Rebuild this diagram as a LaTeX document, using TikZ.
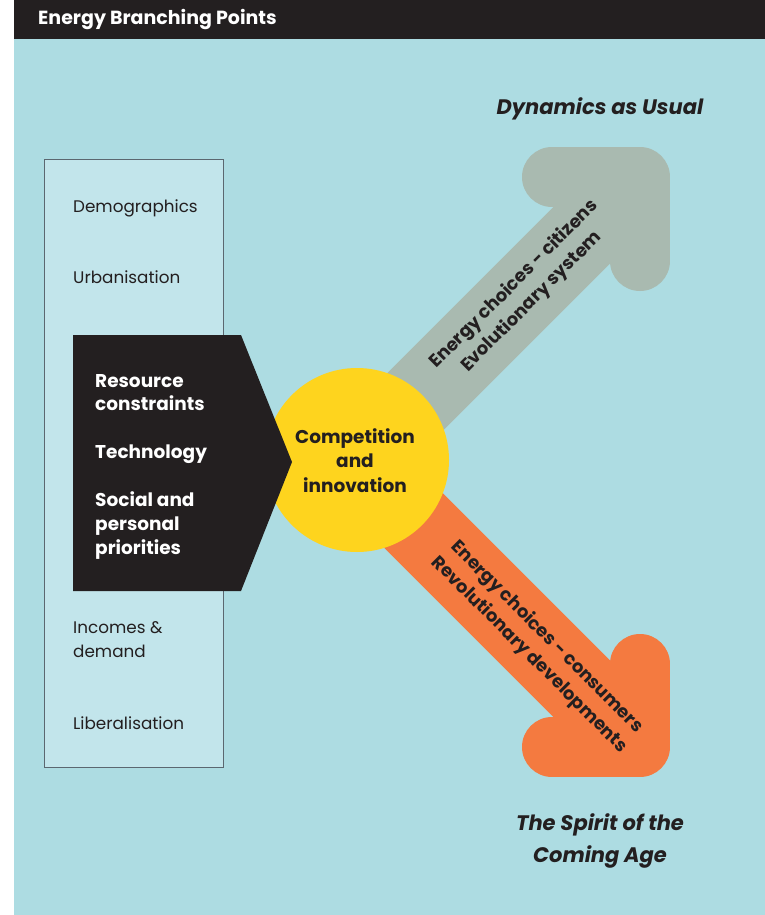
\documentclass[tikz,border=0pt]{standalone}
\usepackage{fontspec}
\setmainfont{Poppins}
\definecolor{bgblue}{HTML}{ADDCE2}
\definecolor{boxblue}{HTML}{C2E5EB}
\definecolor{boxline}{HTML}{5B6770}
\definecolor{inkblack}{HTML}{231F20}
\definecolor{arrowgray}{HTML}{A9BAB0}
\definecolor{arroworange}{HTML}{F47A40}
\definecolor{hubyellow}{HTML}{FED41E}
\tikzset{
  lbl/.style={anchor=base west, inner sep=0pt, text=inkblack, font=\fontsize{16.8}{24}\selectfont},
  wlbl/.style={anchor=base west, inner sep=0pt, text=white, font=\fontsize{18.5}{24}\selectfont\bfseries},
  clbl/.style={anchor=base, inner sep=0pt, text=inkblack, font=\fontsize{18.5}{24}\selectfont\bfseries},
  ttl/.style={anchor=base, inner sep=0pt, text=inkblack, font=\fontsize{21}{26}\selectfont\bfseries\itshape},
  arrtxt/.style={inner sep=0pt, text=inkblack, align=center, font=\fontsize{18}{25}\selectfont\bfseries},
  shaft/.style={line width=80pt, line cap=butt},
  head/.style={line width=60pt, line cap=round, line join=round},
}
\begin{document}
\begin{tikzpicture}[x=1pt,y=-1pt]
\useasboundingbox (0,0) rectangle (765,915);
\fill[white] (0,0) rectangle (765,915);
\fill[bgblue] (14,39) rectangle (765,915);
\fill[inkblack] (14,0) rectangle (765,39);
\node[anchor=base west, inner sep=0pt, text=white, font=\fontsize{19}{22}\selectfont\bfseries] (hdr) at (38,25) {Energy Branching Points};

% left box
\node[draw=boxline, line width=1.2pt, fill=boxblue, minimum width=179pt, minimum height=608pt, anchor=north west, inner sep=0pt] (leftbox) at (44,159) {};
\node[lbl] (demo) at (73,212) {Demographics};
\node[lbl] (urban) at (73,283) {Urbanisation};
\node[lbl] (inc1) at (73,633) {Incomes \&};
\node[lbl] (inc2) at (73,657) {demand};
\node[lbl] (lib) at (73,729) {Liberalisation};

% arrows
\coordinate (O) at (355,462);
\coordinate (gP) at (630,187);
\coordinate (oP) at (630,737);
\draw[arrowgray, shaft] (O) -- (gP);
\draw[arrowgray, head] (552,177) -- (640,177) -- (640,261);
\draw[arroworange, shaft] (O) -- (oP);
\draw[arroworange, head] (640,664) -- (640,747) -- (552,747);
\node[arrtxt, rotate=45] (gtxt) at (523,293) {Energy choices - citizens\\Evolutionary system};
\node[arrtxt, rotate=-45] (otxt) at (538,646) {Energy choices - consumers\\Revolutionary developments};

% hub
\fill[hubyellow] (357,460) circle[radius=92];
\node[circle, minimum size=184pt, inner sep=0pt] (hub) at (357,460) {};

% black pentagon
\fill[inkblack] (73,335) -- (241,335) -- (292,462) -- (241,591) -- (73,591) -- cycle;
\node[wlbl] (res1) at (95,387) {Resource};
\node[wlbl] (res2) at (95,410) {constraints};
\node[wlbl] (tech) at (95,458) {Technology};
\node[wlbl] (soc1) at (95,506) {Social and};
\node[wlbl] (soc2) at (95,530) {personal};
\node[wlbl] (soc3) at (95,554) {priorities};

\node[clbl] (comp1) at (355,443) {Competition};
\node[clbl] (comp2) at (355,467) {and};
\node[clbl] (comp3) at (355,492) {innovation};

% titles
\node[ttl] (dyn) at (600,115) {Dynamics as Usual};
\node[ttl] (spirit1) at (600,830) {The Spirit of the};
\node[ttl] (spirit2) at (600,862) {Coming Age};
\end{tikzpicture}
\end{document}
